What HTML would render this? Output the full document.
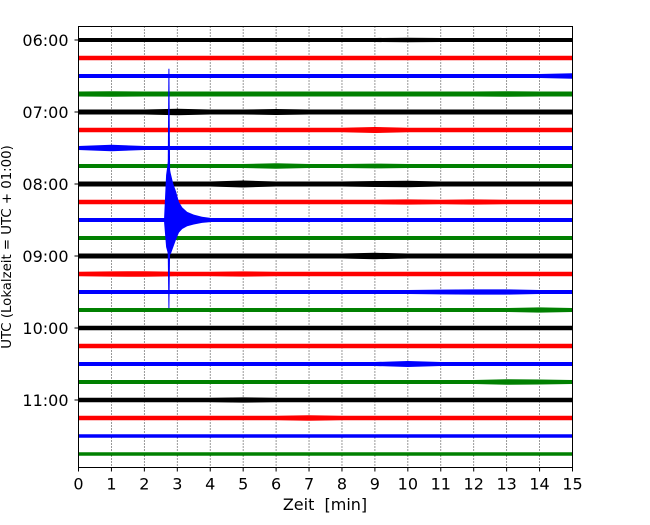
<!DOCTYPE html>
<html><head><meta charset="utf-8"><style>
body{margin:0;background:#fff;}
svg text{font-family:"DejaVu Sans","Liberation Sans",sans-serif;white-space:pre;}
</style></head><body>
<svg id="chart" width="650" height="520" xmlns="http://www.w3.org/2000/svg">
<rect width="650" height="520" fill="#fff"/>
<g id="grid"></g>
<g id="traces"></g>
<rect x="78.5" y="26.5" width="494" height="441" fill="none" stroke="#000" stroke-width="1"/>
<g id="axes"></g>
<text x="325" y="510" font-size="16" text-anchor="middle">Zeit  [min]</text>
<text transform="translate(11,247) rotate(-90)" font-size="13.3" text-anchor="middle">UTC (Lokalzeit = UTC + 01:00)</text>
</svg>
<script>
const xTicks=[0,1,2,3,4,5,6,7,8,9,10,11,12,13,14,15];
const yTickLabels=["06:00","07:00","08:00","09:00","10:00","11:00"];
const traceColors=["#000","#f00","#00f","#008000"];
// envelope half-amplitude (px) per minute boundary, one row per 15-min trace
const traceEnv=[
[2,2,2,2,2,2,2,2,2,2,2.3,2,2,2,2,2],
[2.3,2.3,2.3,2.3,2.3,2.3,2.3,2.3,2.3,2.3,2.3,2.3,2.3,2.3,2.3,2.3],
[2,2,2,2,2,2,2,2,2,2,2,2,2,2,2,2.8],
[2.5,2.8,2.5,2.5,2.5,2.5,2.5,2.5,2.5,2.5,2.5,2.5,2.5,2.8,2.5,2.5],
[2.5,2.5,2.5,3.2,2.5,2.5,3,2.5,2.5,2.5,2.5,2.5,2.5,2.5,2.5,2.5],
[2.3,2.3,2.3,2.3,2.3,2.3,2.3,2.3,2.3,3,2.3,2.3,2.3,2.3,2.3,2.3],
[2,3.3,2,2,2,2,2,2,2,2,2,2,2,2,2,2],
[2,2,2,2,2,2,2.8,2,2,2.4,2,2,2,2,2,2],
[2.5,2.5,2.5,2.5,2.5,3.5,2.5,2.5,2.5,3,3.2,2.5,2.5,2.5,2.5,2.5],
[2.3,2.3,2.3,2.3,2.3,2.3,2.3,2.3,2.3,2.3,2.6,2.3,2.6,2.3,2.3,2.3],
[2,2,2,2,2,2,2,2,2,2,2,2,2,2,2,2],
[2,2,2,2,2,2,2,2,2,2,2,2,2,2,2,2],
[2.5,2.5,2.5,2.5,2.5,2.5,2.5,2.5,2.5,3.2,2.5,2.5,2.5,2.5,2.5,2.5],
[2.3,2.6,2.8,2.3,2.3,2.6,2.3,2.3,2.3,2.3,2.3,2.3,2.3,2.3,2.3,2.3],
[2,2,2,2,2,2,2,2,2,2,2,2.4,2.6,2.6,2,2],
[2,2,2,2,2,2,2,2,2,2,2,2,2,2,2.6,2],
[2.3,2.3,2.3,2.3,2.3,2.3,2.3,2.3,2.3,2.3,2.3,2.3,2.3,2.3,2.3,2.3],
[2.3,2.3,2.3,2.3,2.3,2.3,2.3,2.3,2.3,2.3,2.3,2.3,2.3,2.3,2.3,2.3],
[2,2,2,2,2,2,2,2,2,2,3,2,2,2,2,2],
[2,2,2,2,2,2,2,2,2,2,2,2,2,2.8,2.5,2],
[2.3,2.3,2.3,2.3,2.3,2.6,2.3,2.3,2.3,2.3,2.3,2.3,2.3,2.3,2.3,2.3],
[2.3,2.3,2.3,2.3,2.3,2.3,2.3,2.8,2.3,2.3,2.3,2.3,2.3,2.3,2.3,2.3],
[1.8,1.8,1.8,1.8,1.8,1.8,1.8,1.8,1.8,1.8,1.8,1.8,1.8,1.8,1.8,1.8],
[1.8,1.8,1.8,1.8,1.8,1.8,1.8,1.8,1.8,1.8,1.8,1.8,1.8,1.8,1.8,1.8]
];
// earthquake on trace index 10 (08:30), amplitudes in trace spacings
const eventTrace=10;
const spikeTimes=[2.7,2.73,2.76,2.79];
const spikeUp=[0.3,8.4,8.4,0.3];
const spikeDown=[0.3,4.9,4.9,0.3];
const codaTimes=[2.6,2.66,2.72,2.8,2.88,2.96,3.05,3.15,3.3,3.5,3.75,4.0];
const codaUp=[0.15,2.5,3.3,2.6,2.0,1.6,1.0,0.7,0.45,0.3,0.18,0.12];
const codaDown=[0.15,1.5,1.9,1.9,1.5,1.1,0.7,0.5,0.35,0.25,0.16,0.12];

const NS="http://www.w3.org/2000/svg";
const X0=78.5,X1=572.5,Y0=26.5,Y1=467.5,TY0=40,SP=18;
const xs=t=>X0+(t-0)/(15-0)*(X1-X0);
const ys=i=>TY0+i*SP;
function mk(tag,attrs,parent){const e=document.createElementNS(NS,tag);for(const k in attrs)e.setAttribute(k,attrs[k]);parent.appendChild(e);return e;}
const grid=document.getElementById('grid'),tr=document.getElementById('traces'),ax=document.getElementById('axes');
xTicks.forEach(t=>{
  if(t>0&&t<15){const l=mk('line',{x1:xs(t),x2:xs(t),y1:Y0,y2:Y1,stroke:'#000','stroke-width':0.8,'stroke-dasharray':'1,2'},grid);
  
  }
  const tk=mk('line',{x1:xs(t),x2:xs(t),y1:Y1,y2:Y1+4,stroke:'#000'},ax);
  
  
  const tx=mk('text',{x:xs(t),y:Y1+22,'font-size':16,'text-anchor':'middle'},ax);
  tx.textContent=t;
  
  
});
yTickLabels.forEach((lab,k)=>{
  const y=ys(k*4);
  const tk=mk('line',{x1:X0-4,x2:X0,y1:y,y2:y,stroke:'#000'},ax);
  
  
  const tx=mk('text',{x:X0-10,y:y+6,'font-size':16,'text-anchor':'end'},ax);
  tx.textContent=lab;
  
  
});
traceEnv.forEach((env,i)=>{
  const y=ys(i);let up=[],dn=[];
  env.forEach((a,t)=>{up.push(xs(t)+','+(y-a));dn.unshift(xs(t)+','+(y+a));});
  const p=mk('polygon',{points:up.concat(dn).join(' '),fill:traceColors[i%4]},tr);
  
  
});
function band(times,u,d,name){
  const y=ys(eventTrace);let up=[],dn=[];
  times.forEach((t,k)=>{up.push(xs(t)+','+(y-u[k]*SP));dn.unshift(xs(t)+','+(y+d[k]*SP));});
  const p=mk('polygon',{points:up.concat(dn).join(' '),fill:'#00f'},tr);
  
  
}
band(codaTimes,codaUp,codaDown,'earthquake-coda');
band(spikeTimes,spikeUp,spikeDown,'earthquake-spike');
</script>
</body></html>
